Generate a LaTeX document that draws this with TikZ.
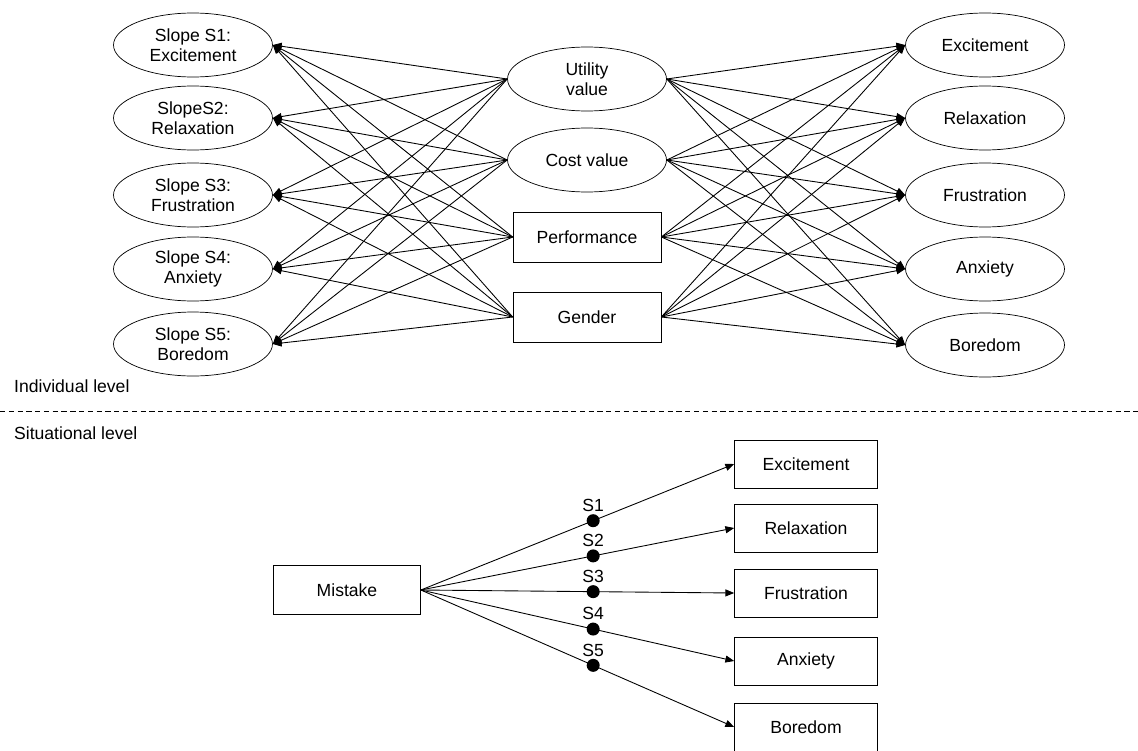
\documentclass[tikz,border=0pt]{standalone}
\usepackage{fontspec}
\setmainfont{Liberation Sans}
\usetikzlibrary{shapes.geometric,arrows.meta}

\begin{document}
\begin{tikzpicture}[x=0.02cm,y=-0.02cm,
	font=\fontsize{10}{11.5}\selectfont,
	latent/.style={draw,ellipse,inner sep=0pt,minimum width=3.18cm,minimum height=1.28cm,align=center},
	observed/.style={draw,rectangle,inner sep=0pt,minimum width=2.96cm,minimum height=1cm},
	emobox/.style={draw,rectangle,inner sep=0pt,minimum width=2.86cm,minimum height=.96cm},
	effect/.style={-{Triangle[length=5pt,width=4pt]},line width=.5pt},
	slopedot/.style={circle,fill,inner sep=0pt,minimum size=.26cm}]

	\useasboundingbox (0,0) rectangle (1138,750);

	\node[latent] (s1) at (193,45)  {Slope S1:\\Excitement};
	\node[latent] (s2) at (193,118) {SlopeS2:\\Relaxation};
	\node[latent] (s3) at (193,195) {Slope S3:\\Frustration};
	\node[latent] (s4) at (193,269) {Slope S4:\\Anxiety};
	\node[latent] (s5) at (193,344) {Slope S5:\\Boredom};

	\node[latent] (util) at (587,79)  {Utility\\value};
	\node[latent] (cost) at (587,160) {Cost value};
	\node[observed] (perf) at (587,237) {Performance};
	\node[observed] (gend) at (587,317) {Gender};

	\node[latent] (exc) at (985,45)  {Excitement};
	\node[latent] (rel) at (985,118) {Relaxation};
	\node[latent] (fru) at (985,195) {Frustration};
	\node[latent] (anx) at (985,269) {Anxiety};
	\node[latent] (bor) at (985,345) {Boredom};

	\draw[effect] (util.west) -- (s1.east);
	\draw[effect] (util.west) -- (s2.east);
	\draw[effect] (util.west) -- (s3.east);
	\draw[effect] (util.west) -- (s4.east);
	\draw[effect] (util.west) -- (s5.east);
	\draw[effect] (cost.west) -- (s1.east);
	\draw[effect] (cost.west) -- (s2.east);
	\draw[effect] (cost.west) -- (s3.east);
	\draw[effect] (cost.west) -- (s4.east);
	\draw[effect] (cost.west) -- (s5.east);
	\draw[effect] (perf.west) -- (s1.east);
	\draw[effect] (perf.west) -- (s2.east);
	\draw[effect] (perf.west) -- (s3.east);
	\draw[effect] (perf.west) -- (s4.east);
	\draw[effect] (perf.west) -- (s5.east);
	\draw[effect] (gend.west) -- (s1.east);
	\draw[effect] (gend.west) -- (s2.east);
	\draw[effect] (gend.west) -- (s3.east);
	\draw[effect] (gend.west) -- (s4.east);
	\draw[effect] (gend.west) -- (s5.east);

	\draw[effect] (util.east) -- (exc.west);
	\draw[effect] (util.east) -- (rel.west);
	\draw[effect] (util.east) -- (fru.west);
	\draw[effect] (util.east) -- (anx.west);
	\draw[effect] (util.east) -- (bor.west);
	\draw[effect] (cost.east) -- (exc.west);
	\draw[effect] (cost.east) -- (rel.west);
	\draw[effect] (cost.east) -- (fru.west);
	\draw[effect] (cost.east) -- (anx.west);
	\draw[effect] (cost.east) -- (bor.west);
	\draw[effect] (perf.east) -- (exc.west);
	\draw[effect] (perf.east) -- (rel.west);
	\draw[effect] (perf.east) -- (fru.west);
	\draw[effect] (perf.east) -- (anx.west);
	\draw[effect] (perf.east) -- (bor.west);
	\draw[effect] (gend.east) -- (exc.west);
	\draw[effect] (gend.east) -- (rel.west);
	\draw[effect] (gend.east) -- (fru.west);
	\draw[effect] (gend.east) -- (anx.west);
	\draw[effect] (gend.east) -- (bor.west);

	\node[anchor=west] (indiv) at (8,386) {Individual level};
	\coordinate (cutl) at (0,411);
	\coordinate (cutr) at (1138,411);
	\draw[dash pattern=on 3pt off 2pt,line width=.5pt] (cutl) -- (cutr);
	\node[anchor=west] (situ) at (8,433) {Situational level};

	\node[observed,minimum width=2.94cm,minimum height=.98cm] (mist) at (347,590) {Mistake};

	\node[emobox] (bexc) at (806,464) {Excitement};
	\node[emobox] (brel) at (806,528) {Relaxation};
	\node[emobox] (bfru) at (806,593) {Frustration};
	\node[emobox] (banx) at (806,661) {Anxiety};
	\node[emobox] (bbor) at (806,727) {Boredom};

	\draw[effect] (mist.east) -- (bexc.west) node[slopedot,pos=.55,label={[inner sep=1pt]above:S1}] (d1) {};
	\draw[effect] (mist.east) -- (brel.west) node[slopedot,pos=.55,label={[inner sep=1pt]above:S2}] (d2) {};
	\draw[effect] (mist.east) -- (bfru.west) node[slopedot,pos=.55,label={[inner sep=1pt]above:S3}] (d3) {};
	\draw[effect] (mist.east) -- (banx.west) node[slopedot,pos=.55,label={[inner sep=1pt]above:S4}] (d4) {};
	\draw[effect] (mist.east) -- (bbor.west) node[slopedot,pos=.55,label={[inner sep=1pt]above:S5}] (d5) {};
\end{tikzpicture}
\end{document}
